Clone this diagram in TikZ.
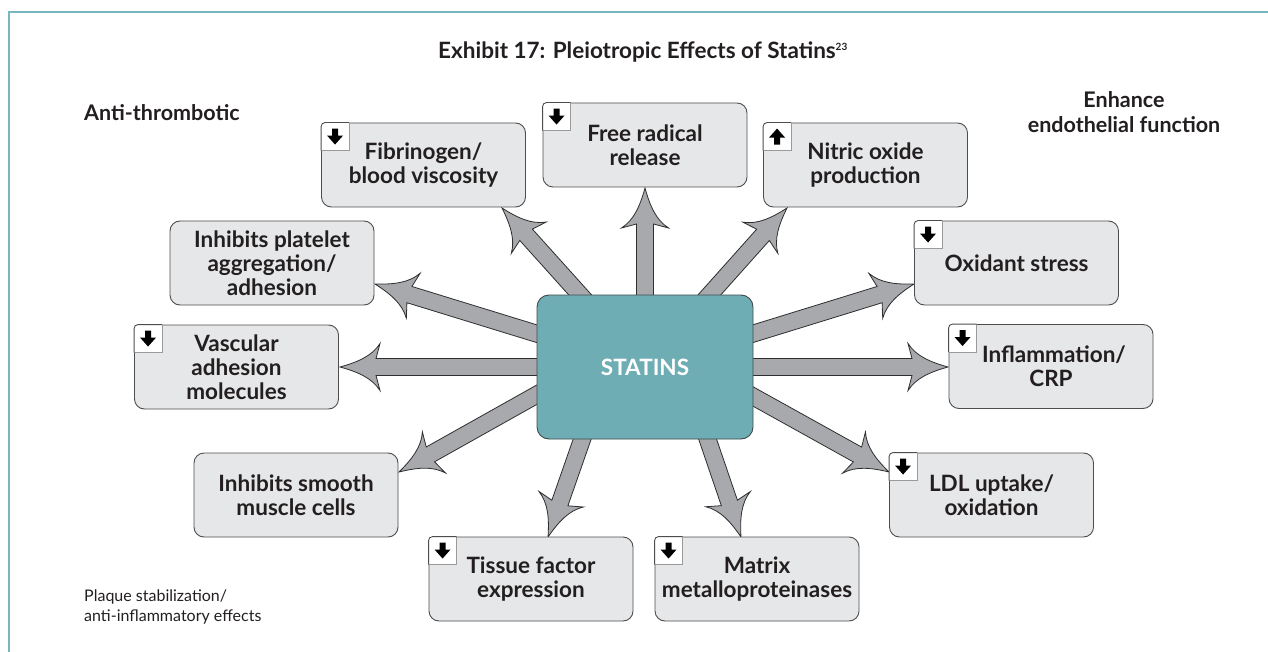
\documentclass[tikz,border=0pt]{standalone}
\usepackage{fontspec}
\setmainfont{Lato}
\usetikzlibrary{calc}
\pgfdeclarelayer{back}
\pgfdeclarelayer{background}
\pgfsetlayers{back,background,main}
\definecolor{frameteal}{HTML}{79B7BF}
\definecolor{statfill}{HTML}{6FADB5}
\definecolor{statline}{HTML}{3D4A4C}
\definecolor{boxfill}{HTML}{E6E7E8}
\definecolor{boxline}{HTML}{4D4D4D}
\definecolor{iconline}{HTML}{9A9A9A}
\definecolor{arrfill}{HTML}{A7A9AC}
\definecolor{arrline}{HTML}{2E2E2E}
\definecolor{txt}{HTML}{231F20}
\tikzset{
  effbox/.style={rectangle, rounded corners=10pt, fill=boxfill, draw=boxline, line width=0.9pt,
    minimum width=204pt, minimum height=84pt, align=center, inner sep=0pt, text=txt,
    font=\fontsize{22.5}{24}\selectfont\bfseries},
  statbox/.style={rectangle, rounded corners=12pt, fill=statfill, draw=statline, line width=0.9pt,
    minimum width=216pt, minimum height=144pt, text=white, font=\fontsize{22.5}{24}\selectfont\bfseries},
  heading/.style={text=txt, inner sep=0pt, font=\fontsize{21.5}{25}\selectfont\bfseries, align=center},
  titlestyle/.style={text=txt, inner sep=0pt, font=\fontsize{22.5}{25}\selectfont\bfseries},
  smallnote/.style={text=txt, inner sep=0pt, font=\fontsize{16}{20}\selectfont, align=left},
  fatarr/.style={fill=arrfill, draw=arrline, line width=0.8pt, line join=miter},
}
\newcommand\fatarrow[2]{%
  \path let \p1=($(#2)-(#1)$) in \pgfextra{%
    \pgfmathsetmacro\faang{atan2(\y1,\x1)}%
    \pgfmathsetmacro\falen{veclen(\x1,\y1)}%
    \global\let\faangG\faang \global\let\falenG\falen};
  \draw[fatarr, shift={(#2)}, rotate=\faangG]
    (0pt,0pt) .. controls (-18pt,5pt) and (-32pt,11pt) .. (-40pt,23.5pt)
    -- (-36pt,8.5pt) -- (-\falenG pt,8.5pt) -- (-\falenG pt,-8.5pt) -- (-36pt,-8.5pt) -- (-40pt,-23.5pt)
    .. controls (-32pt,-11pt) and (-18pt,-5pt) .. (0pt,0pt) -- cycle;
}
\newcommand\boxicon[2]{%
  \fill[white] ([yshift=-28pt]#1.north west) [rounded corners=4pt] -- (#1.north west) [sharp corners]
     -- ([xshift=28pt]#1.north west) -- ([xshift=28pt,yshift=-28pt]#1.north west) -- cycle;
  \draw[iconline, line width=0.7pt] ([xshift=28pt]#1.north west) -- ([xshift=28pt,yshift=-28pt]#1.north west)
     -- ([yshift=-28pt]#1.north west);
  \draw[boxline, line width=0.9pt] ([yshift=-28pt]#1.north west) [rounded corners=4pt] -- (#1.north west) [sharp corners]
     -- ([xshift=28pt]#1.north west);
  \fill[black, shift={([xshift=14pt,yshift=-14pt]#1.north west)}, yscale=#2]
     (-3,-8) -- (3,-8) -- (3,-1) -- (8,-1) -- (0,8) -- (-8,-1) -- (-3,-1) -- cycle;
}
\begin{document}
\begin{tikzpicture}[x=1pt, y=-1pt]
\useasboundingbox (0,0) rectangle (1268,652);
\begin{pgfonlayer}{back}
\fill[white] (0,0) rectangle (1268,652);
\end{pgfonlayer}
\draw[frameteal, line width=1.5pt] (1268,12) -- (9,12) -- (9,652);

% headings
\node[titlestyle] (title) at (643,52) {Exhibit 17: Pleiotropic Effects of Statins\textsuperscript{\fontsize{10}{10}\selectfont 23}};
\node[heading, anchor=west] (anti) at (84,113) {Anti-thrombotic};
\node[heading] (enh) at (1124,112) {Enhance\\endothelial function};
\node[smallnote, anchor=west] (plaque) at (84,607) {Plaque stabilization/\\anti-inflammatory effects};

% center
\node[statbox] (statins) at (645,367) {STATINS};

% effect boxes
\node[effbox] (fib) at (423.5,165) {Fibrinogen/\\blood viscosity};
\node[effbox] (free) at (645,145) {Free radical\\release};
\node[effbox] (nitric) at (865.5,165) {Nitric oxide\\production};
\node[effbox] (plat) at (272,263) {Inhibits platelet\\aggregation/\\adhesion};
\node[effbox] (oxid) at (1016.5,263) {Oxidant stress};
\node[effbox] (vasc) at (236.5,367) {Vascular\\adhesion\\molecules};
\node[effbox] (infl) at (1051,366.5) {\hspace*{6pt}Inflammation/\\CRP};
\node[effbox] (smooth) at (296,495) {Inhibits smooth\\muscle cells};
\node[effbox] (ldl) at (991.5,495) {LDL uptake/\\oxidation};
\node[effbox] (tissue) at (531,579) {Tissue factor\\expression};
\node[effbox] (matrix) at (757,579) {Matrix\\metalloproteinases};

\boxicon{fib}{1}
\boxicon{free}{1}
\boxicon{nitric}{-1}
\boxicon{oxid}{1}
\boxicon{vasc}{1}
\boxicon{infl}{1}
\boxicon{ldl}{1}
\boxicon{tissue}{1}
\boxicon{matrix}{1}

% arrow tips and starts
\coordinate (t-fib) at (502,208);
\coordinate (t-free) at (645,188);
\coordinate (t-nitric) at (787,208);
\coordinate (t-plat) at (375,284);
\coordinate (t-vasc) at (340,367);
\coordinate (t-smooth) at (399,472);
\coordinate (t-tissue) at (548,537);
\coordinate (t-matrix) at (741,537);
\coordinate (t-ldl) at (889,472);
\coordinate (t-infl) at (948,367);
\coordinate (t-oxid) at (914,284);
\coordinate (s-smooth) at (563,380);
\coordinate (s-tissue) at (592,411);
\coordinate (s-matrix) at (698,411);
\coordinate (s-ldl) at (727,382);

\begin{pgfonlayer}{background}
\fatarrow{statins.center}{t-fib}
\fatarrow{statins.center}{t-free}
\fatarrow{statins.center}{t-nitric}
\fatarrow{statins.center}{t-plat}
\fatarrow{statins.center}{t-vasc}
\fatarrow{s-smooth}{t-smooth}
\fatarrow{s-tissue}{t-tissue}
\fatarrow{s-matrix}{t-matrix}
\fatarrow{s-ldl}{t-ldl}
\fatarrow{statins.center}{t-infl}
\fatarrow{statins.center}{t-oxid}
\end{pgfonlayer}
\end{tikzpicture}
\end{document}
